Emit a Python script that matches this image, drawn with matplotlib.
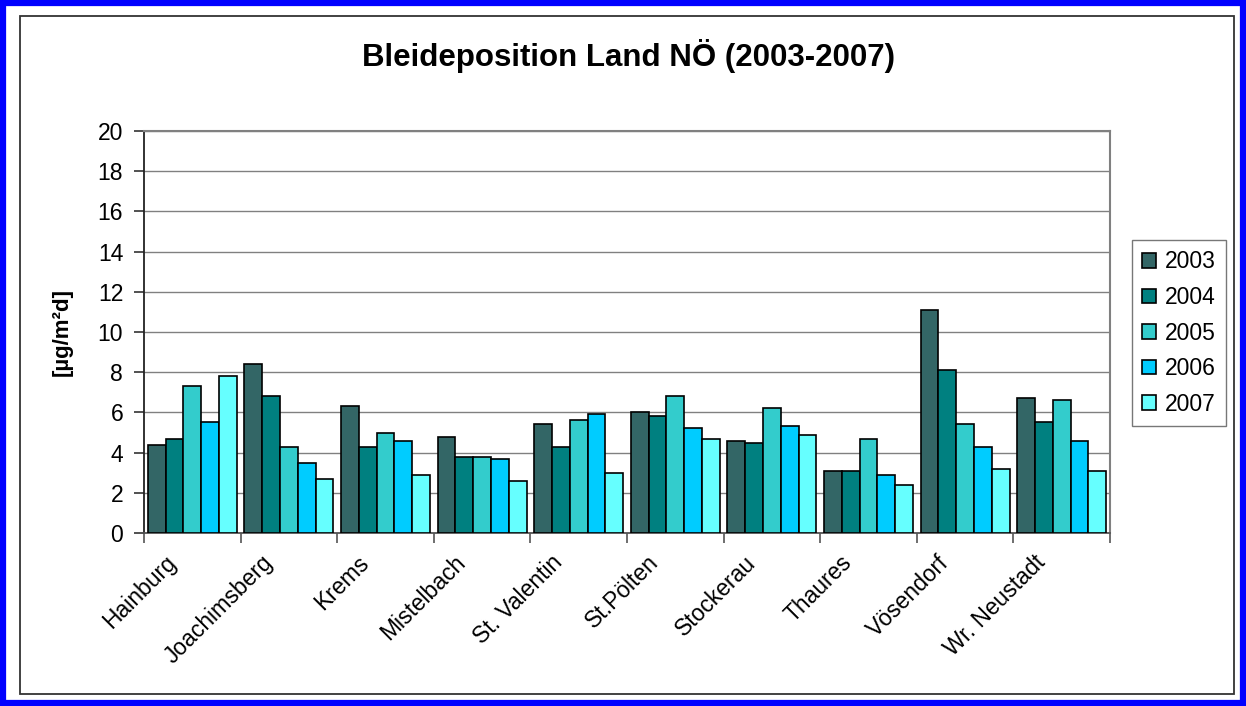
import matplotlib
matplotlib.use("Agg")
import matplotlib.pyplot as plt
import matplotlib.transforms as mtransforms
import numpy as np
from matplotlib.patches import Rectangle

plt.rcParams["font.family"] = ["Liberation Sans", "DejaVu Sans"]

stations = ["Hainburg", "Joachimsberg", "Krems", "Mistelbach", "St. Valentin",
            "St.Pölten", "Stockerau", "Thaures", "Vösendorf", "Wr. Neustadt"]
years = ["2003", "2004", "2005", "2006", "2007"]
colors = ["#336666", "#008080", "#33CCCC", "#00CCFF", "#66FFFF"]

pb_2003 = [4.4, 8.4, 6.3, 4.8, 5.4, 6.0, 4.6, 3.1, 11.1, 6.7]
pb_2004 = [4.7, 6.8, 4.3, 3.8, 4.3, 5.8, 4.5, 3.1, 8.1, 5.5]
pb_2005 = [7.3, 4.3, 5.0, 3.8, 5.6, 6.8, 6.2, 4.7, 5.4, 6.6]
pb_2006 = [5.5, 3.5, 4.6, 3.7, 5.9, 5.2, 5.3, 2.9, 4.3, 4.6]
pb_2007 = [7.8, 2.7, 2.9, 2.6, 3.0, 4.7, 4.9, 2.4, 3.2, 3.1]
series = [pb_2003, pb_2004, pb_2005, pb_2006, pb_2007]

fig = plt.figure(figsize=(12.46, 7.06), dpi=100)
W, H = 1246, 706

# outer blue frame and inner chart border
fig.patches.append(Rectangle((3 / W, 3 / H), 1 - 6 / W, 1 - 6 / H, transform=fig.transFigure,
                             fill=False, edgecolor="#0000FF", linewidth=4.5))
fig.patches.append(Rectangle((20 / W, 1 - 694 / H), 1214 / W, 678 / H, transform=fig.transFigure,
                             fill=False, edgecolor="#333333", linewidth=1.3))

ax = fig.add_axes([144 / W, 1 - 533 / H, 966 / W, 402 / H])

x = np.arange(len(stations))
bw = 0.92 / 5
for i, (yr, vals) in enumerate(zip(years, series)):
    ax.bar(x - 0.46 + bw * (i + 0.5), vals, width=bw, color=colors[i],
           edgecolor="black", linewidth=1.2, label=yr, zorder=3)

ax.set_xlim(-0.5, len(stations) - 0.5)
ax.set_ylim(0, 20)
ax.set_yticks(range(0, 21, 2))
ax.yaxis.grid(True, color="#808080", linewidth=1.0, zorder=0)

# category names: rotated, ending a bit left of the category centre (Excel style)
ax.set_xticks(np.arange(-0.5, len(stations)))
ax.set_xticklabels([])
ax.tick_params(axis="x", length=7, width=1.2, color="#555555", direction="out")
lbl_trans = ax.get_xaxis_transform() + mtransforms.ScaledTranslation(-0.28, -0.18, fig.dpi_scale_trans)
for xi, name in zip(x, stations):
    ax.text(xi, 0, name, transform=lbl_trans, rotation=45, ha="right", va="top",
            rotation_mode="anchor", fontsize=16.5)

ax.tick_params(axis="y", length=7, width=1.2, color="#333333", labelsize=16.5, pad=8)

for side in ["top", "right"]:
    ax.spines[side].set_color("#808080")
    ax.spines[side].set_linewidth(1.5)
ax.spines["left"].set_color("#222222")
ax.spines["left"].set_linewidth(1.3)
ax.spines["bottom"].set_color("#555555")
ax.spines["bottom"].set_linewidth(1.3)

ax.set_ylabel("[µg/m²d]", fontsize=16, fontweight="bold", labelpad=18)

fig.text(628 / W, 1 - 56 / H, "Bleideposition Land NÖ (2003-2007)", fontsize=22.5,
         fontweight="bold", ha="center", va="center")

leg = fig.legend(loc="upper left", bbox_to_anchor=(1132 / W, 1 - 240 / H), fontsize=16.5,
                 frameon=True, fancybox=False, edgecolor="#555555", handlelength=0.6,
                 handleheight=0.6, handletextpad=0.4, labelspacing=0.55, borderpad=0.45,
                 borderaxespad=0)
leg.get_frame().set_linewidth(1.0)

fig.savefig("out.png", dpi=100)
